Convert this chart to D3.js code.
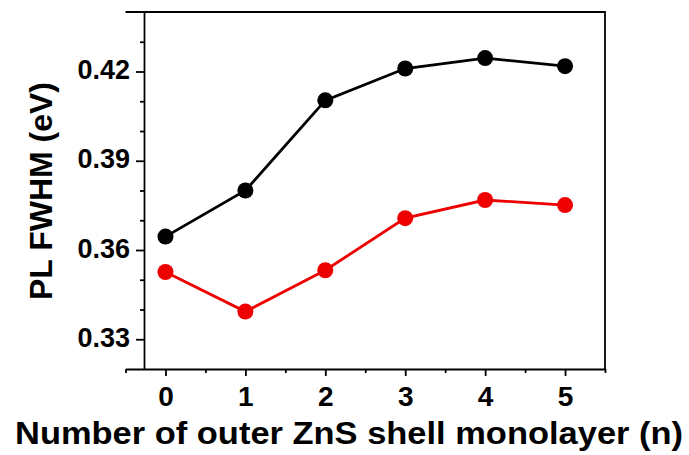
<!DOCTYPE html>
<html lang="en">
<head>
<meta charset="UTF-8">
<title>PL FWHM vs ZnS shell</title>
<style>
  html, body { margin: 0; padding: 0; background: #fff; }
  #chart-container text { font-family: "Liberation Sans", Arial, sans-serif; font-weight: bold; fill: #000; }
</style>
</head>
<body>
<div id="chart-container"></div>
<script src="https://cdn.jsdelivr.net/npm/d3@7"></script>
<script>

  // shell monolayers (n)
  var shells = [0, 1, 2, 3, 4, 5];
  // PL FWHM (eV)
  var blackSeries = [0.3645, 0.3800, 0.4103, 0.4210, 0.4245, 0.4218];
  var redSeries = [0.3526, 0.3393, 0.3532, 0.3707, 0.3768, 0.3751];
  var yTickValues = [0.33, 0.36, 0.39, 0.42];

  var width = 689;
  var height = 455;

  var x = d3.scaleLinear().domain([-0.5, 5.5]).range([125.5, 605]);
  var y = d3.scaleLinear().domain([0.32, 0.44]).range([369, 12]);
  var yAxisX = 144;

  var svg = d3.select("#chart-container").append("svg")
      .attr("width", width)
      .attr("height", height);

  // frame: top and right lines
  svg.append("path")
      .attr("d", "M" + x.range()[0] + "," + y.range()[1] + "H" + x.range()[1] + "V" + y.range()[0])
      .attr("fill", "none")
      .attr("stroke", "#000")
      .attr("stroke-width", 1.8);

  // x axis
  var xAxis = svg.append("g")
      .attr("transform", "translate(0," + y.range()[0] + ")")
      .call(d3.axisBottom(x).tickValues(shells).tickFormat(d3.format("d")).tickSize(7).tickSizeOuter(0));

  var xMinor = d3.range(-0.5, 5.6, 1);
  svg.append("g")
      .attr("transform", "translate(0," + y.range()[0] + ")")
      .call(d3.axisBottom(x).tickValues(xMinor).tickFormat("").tickSize(4).tickSizeOuter(0))
      .select(".domain").remove();

  xAxis.selectAll("text")
      .attr("dy", null)
      .attr("y", 37)
      .style("font-size", "28px");

  // y axis
  var yAxis = svg.append("g")
      .attr("transform", "translate(" + yAxisX + ",0)")
      .call(d3.axisLeft(y).tickValues(yTickValues).tickFormat(d3.format(".2f")).tickSize(8).tickSizeOuter(0));

  var yMinor = d3.range(33, 44).map(function(d) { return d / 100; })
      .filter(function(d) { return yTickValues.indexOf(d) < 0; });
  svg.append("g")
      .attr("transform", "translate(" + yAxisX + ",0)")
      .call(d3.axisLeft(y).tickValues(yMinor).tickFormat("").tickSize(4).tickSizeOuter(0))
      .select(".domain").remove();

  yAxis.selectAll("text")
      .attr("dy", null)
      .attr("x", -14)
      .attr("y", 7)
      .style("font-size", "27px");

  svg.selectAll(".domain, .tick line")
      .attr("stroke", "#000")
      .attr("stroke-width", 1.8);

  // series
  var line = d3.line()
      .x(function(d, i) { return x(shells[i]); })
      .y(function(d) { return y(d); });

  var series = [
    { values: blackSeries, color: "#000" },
    { values: redSeries, color: "#ee0000" }
  ];

  series.forEach(function(s) {
    svg.append("path")
        .datum(s.values)
        .attr("d", line)
        .attr("fill", "none")
        .attr("stroke", s.color)
        .attr("stroke-width", 2.8);

    svg.selectAll(null)
        .data(s.values)
      .enter().append("circle")
        .attr("cx", function(d, i) { return x(shells[i]); })
        .attr("cy", function(d) { return y(d); })
        .attr("r", 8)
        .attr("fill", s.color);
  });

  // axis titles
  svg.append("text")
      .attr("x", 349)
      .attr("y", 444)
      .attr("text-anchor", "middle")
      .attr("textLength", 668)
      .attr("lengthAdjust", "spacingAndGlyphs")
      .style("font-size", "31px")
      .text("Number of outer ZnS shell monolayer (n)");

  svg.append("text")
      .attr("transform", "translate(52,191) rotate(-90)")
      .attr("text-anchor", "middle")
      .style("font-size", "32px")
      .text("PL FWHM (eV)");

</script>
</body>
</html>
